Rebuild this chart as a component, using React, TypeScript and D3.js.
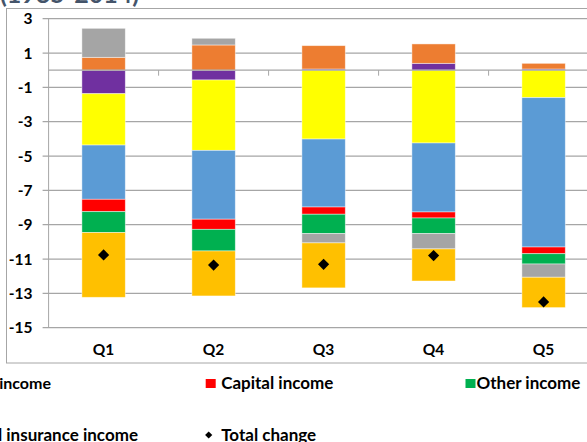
import React from "react";
import * as d3 from "d3";

const categories = ["Q1", "Q2", "Q3", "Q4", "Q5"];
const seriesKeys = ["purple", "orange", "yellow", "blue", "red", "green", "grey", "gold"];
const purpleVals = [-1.37, -0.57, 0.07, 0.4, 0.07];
const orangeVals = [0.75, 1.47, 1.36, 1.13, 0.33];
const yellowVals = [-2.99, -4.1, -4.01, -4.24, -1.6];
const blueVals = [-3.16, -4.01, -3.96, -4.02, -8.7];
const redVals = [-0.72, -0.59, -0.42, -0.35, -0.39];
const greenVals = [-1.22, -1.26, -1.13, -0.91, -0.6];
const greyVals = [1.69, 0.39, -0.54, -0.89, -0.77];
const goldVals = [-3.77, -2.62, -2.62, -1.87, -1.77];
const totalChange = [-10.76, -11.35, -11.31, -10.8, -13.5];
const yTicks = [3, 1, -1, -3, -5, -7, -9, -11, -13, -15];
const titleText = "(1985-2014)";
const legendRow1 = ["Labor income", "Capital income", "Other income"];
const legendRow2 = ["Social insurance income", "Total change"];

const colors: Record<string, string> = {
  purple: "#7030A0",
  orange: "#ED7D31",
  yellow: "#FFFF00",
  blue: "#5B9BD5",
  red: "#FF0000",
  green: "#00B050",
  grey: "#A5A5A5",
  gold: "#FFC000",
};

const FONT = "Lato, 'Open Sans', sans-serif";

export default function App() {
  const W = 587;
  const H = 442;
  const plotLeft = 48.6;
  const step = 110;
  const x = d3
    .scaleBand<string>()
    .domain(categories)
    .range([plotLeft, plotLeft + step * categories.length])
    .paddingInner(0)
    .paddingOuter(0);
  const y = d3.scaleLinear().domain([-15, 3]).range([327.7, 18.7]);
  const barW = 43.4;

  const valuesByKey: Record<string, number[]> = {
    purple: purpleVals,
    orange: orangeVals,
    yellow: yellowVals,
    blue: blueVals,
    red: redVals,
    green: greenVals,
    grey: greyVals,
    gold: goldVals,
  };
  const table = categories.map((c, i) => {
    const row: Record<string, any> = { cat: c };
    seriesKeys.forEach((k) => (row[k] = valuesByKey[k][i]));
    return row;
  });
  const stacked = d3
    .stack<Record<string, any>>()
    .keys(seriesKeys)
    .offset(d3.stackOffsetDiverging)(table);

  const diamond = (cx: number, cy: number, r: number) =>
    `M${cx},${cy - r}L${cx + r},${cy}L${cx},${cy + r}L${cx - r},${cy}Z`;

  const gridColor = "#A6A6A6";
  const colX = [-55.1, 205.7, 466.5];
  const row1Y = 388.5;
  const row2Y = 441;
  const legendFs = 17;

  return (
    <svg
      width={W}
      height={H}
      style={{ position: "absolute", left: 0, top: 0, background: "#fff" }}
      fontFamily={FONT}
    >
      <rect x={0} y={0} width={W} height={H} fill="#fff" />
      <text x={0} y={3} fontSize={25} fontWeight={700} fill="#44546A">
        {titleText}
      </text>
      {/* chart frame */}
      <rect x={6.5} y={8.5} width={W} height={354.5} fill="none" stroke="#A6A6A6" strokeWidth={1} />

      {/* gridlines */}
      {yTicks.map((t) => (
        <line
          key={"g" + t}
          x1={plotLeft - 6}
          x2={W}
          y1={y(t)}
          y2={y(t)}
          stroke={gridColor}
          strokeWidth={1.2}
        />
      ))}
      {/* y axis */}
      <line x1={plotLeft} x2={plotLeft} y1={y(3)} y2={y(-15)} stroke="#A6A6A6" strokeWidth={1} />
      {yTicks.map((t) => (
        <text
          key={"yt" + t}
          x={32.5}
          y={y(t)}
          dy="0.36em"
          textAnchor="end"
          fontSize={15.5}
          fontWeight={700}
          fill="#000"
        >
          {t}
        </text>
      ))}

      {/* bars */}
      {stacked.map((s) => (
        <g key={s.key} fill={colors[s.key]}>
          {s.map((d, i) => {
            const y0 = y(Math.max(d[0], d[1]));
            const y1 = y(Math.min(d[0], d[1]));
            if (y1 - y0 <= 0) return null;
            const cx = (x(categories[i]) as number) + x.bandwidth() / 2;
            return (
              <rect
                key={i}
                x={cx - barW / 2}
                y={y0}
                width={barW}
                height={y1 - y0}
                stroke="#ffffff"
                strokeOpacity={0.55}
                strokeWidth={0.8}
              />
            );
          })}
        </g>
      ))}

      {/* zero axis with ticks */}
      <line x1={plotLeft} x2={W} y1={y(0)} y2={y(0)} stroke="#A6A6A6" strokeWidth={1.2} />
      {categories.map((c) => (
        <line
          key={"xt" + c}
          x1={(x(c) as number) + step}
          x2={(x(c) as number) + step}
          y1={y(0)}
          y2={y(0) + 5.5}
          stroke="#A6A6A6"
          strokeWidth={1}
        />
      ))}

      {/* total change markers */}
      {totalChange.map((v, i) => {
        const cx = (x(categories[i]) as number) + x.bandwidth() / 2;
        return <path key={"tc" + i} d={diamond(cx, y(v), 5.6)} fill="#000" />;
      })}

      {/* category labels */}
      {categories.map((c) => (
        <text
          key={"cl" + c}
          x={(x(c) as number) + x.bandwidth() / 2}
          y={355}
          textAnchor="middle"
          fontSize={15.5}
          fontWeight={700}
          fill="#000"
        >
          {c}
        </text>
      ))}

      {/* legend */}
      <g>
        <text x={51} y={row1Y} textAnchor="end" fontSize={16} fontWeight={700} fill="#000">
          {legendRow1[0]}
        </text>
      </g>
      <g>
        <rect x={colX[1]} y={379} width={10} height={9} fill={colors.red} />
        <text x={colX[1] + 15.5} y={row1Y} fontSize={legendFs} fontWeight={700} fill="#000">
          {legendRow1[1]}
        </text>
      </g>
      <g>
        <rect x={colX[2] - 1} y={379} width={10} height={9} fill={colors.green} />
        <text x={colX[2] + 10} y={row1Y} fontSize={legendFs} fontWeight={700} fill="#000">
          {legendRow1[2]}
        </text>
      </g>
      <g>
        <text x={138} y={row2Y} textAnchor="end" fontSize={legendFs} fontWeight={700} fill="#000">
          {legendRow2[0]}
        </text>
      </g>
      <g>
        <path d={diamond(colX[1] + 3, row2Y - 6, 3.6)} fill="#000" />
        <text x={colX[1] + 15.5} y={row2Y} fontSize={legendFs} fontWeight={700} fill="#000">
          {legendRow2[1]}
        </text>
      </g>
    </svg>
  );
}
